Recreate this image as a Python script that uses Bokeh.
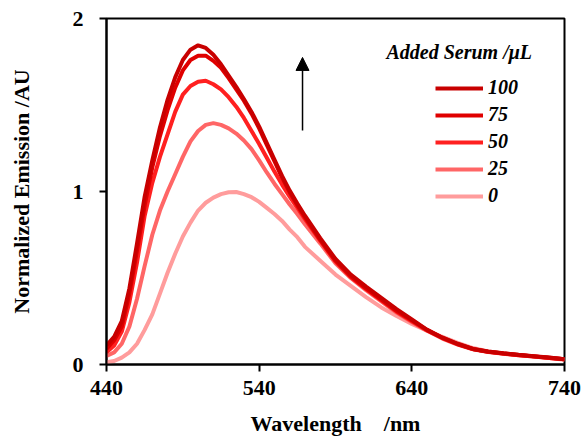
from bokeh.plotting import figure
from bokeh.models import Range1d, Legend, LegendItem, Label, Arrow, NormalHead, FixedTicker
from bokeh.embed import file_html
from bokeh.resources import INLINE

wavelength = [440, 445, 450, 455, 460, 465, 470, 475, 480, 485, 490, 495, 500, 505, 510,
              515, 520, 525, 530, 535, 540, 545, 550, 555, 560, 565, 570, 580, 590, 600,
              610, 620, 630, 640, 650, 660, 670, 680, 690, 700, 710, 720, 730, 740]

serum_100 = [0.11, 0.16, 0.25, 0.44, 0.70, 0.97, 1.18, 1.37, 1.53, 1.66, 1.76, 1.82, 1.845, 1.83, 1.79,
             1.735, 1.67, 1.605, 1.535, 1.46, 1.375, 1.28, 1.185, 1.09, 1.005, 0.93, 0.86, 0.73, 0.61, 0.52,
             0.45, 0.385, 0.32, 0.26, 0.20, 0.155, 0.12, 0.09, 0.075, 0.065, 0.056, 0.048, 0.04, 0.03]
serum_75 = [0.09, 0.14, 0.22, 0.41, 0.66, 0.92, 1.14, 1.32, 1.47, 1.60, 1.70, 1.76, 1.785, 1.785, 1.755,
            1.715, 1.655, 1.59, 1.525, 1.45, 1.365, 1.27, 1.175, 1.08, 0.995, 0.92, 0.85, 0.72, 0.60, 0.51,
            0.44, 0.375, 0.31, 0.255, 0.20, 0.155, 0.118, 0.09, 0.074, 0.064, 0.055, 0.047, 0.039, 0.03]
serum_50 = [0.07, 0.11, 0.19, 0.36, 0.59, 0.86, 1.05, 1.20, 1.33, 1.46, 1.56, 1.61, 1.635, 1.64, 1.62,
            1.59, 1.545, 1.49, 1.425, 1.35, 1.275, 1.195, 1.115, 1.04, 0.97, 0.905, 0.84, 0.715, 0.595, 0.505,
            0.435, 0.37, 0.305, 0.25, 0.197, 0.153, 0.117, 0.089, 0.073, 0.063, 0.054, 0.046, 0.038, 0.03]
serum_25 = [0.05, 0.07, 0.12, 0.22, 0.38, 0.57, 0.75, 0.89, 1.0, 1.1, 1.2, 1.29, 1.35, 1.385, 1.395,
            1.385, 1.365, 1.335, 1.295, 1.245, 1.18, 1.11, 1.045, 0.985, 0.925, 0.87, 0.81, 0.7, 0.585, 0.5,
            0.43, 0.365, 0.3, 0.245, 0.195, 0.15, 0.115, 0.088, 0.072, 0.062, 0.054, 0.046, 0.038, 0.03]
serum_0 = [0.013, 0.02, 0.04, 0.07, 0.12, 0.2, 0.29, 0.41, 0.53, 0.64, 0.74, 0.82, 0.89, 0.935, 0.965,
           0.985, 0.996, 0.997, 0.985, 0.967, 0.94, 0.905, 0.87, 0.83, 0.78, 0.736, 0.68, 0.6, 0.52, 0.455,
           0.39, 0.33, 0.28, 0.235, 0.195, 0.16, 0.125, 0.095, 0.075, 0.063, 0.055, 0.047, 0.038, 0.028]

series_labels = ["100", "75", "50", "25", "0"]
series_values = [serum_100, serum_75, serum_50, serum_25, serum_0]
series_colors = ["#C80000", "#E00000", "#FF2020", "#FF6666", "#FF9C9C"]

x_ticks = [440, 540, 640, 740]
y_ticks = [0, 1, 2]

FONT = "Liberation Serif"

p = figure(width=584, height=439, output_backend="svg", toolbar_location=None,
           x_range=Range1d(440, 740), y_range=Range1d(0, 2),
           min_border_left=106, min_border_right=20, min_border_top=18, min_border_bottom=75)
p.grid.visible = False
p.outline_line_color = "black"
p.outline_line_width = 2
p.background_fill_color = "white"
p.border_fill_color = "white"

for ax in (p.xaxis[0], p.yaxis[0]):
    ax.axis_line_width = 2
    ax.major_tick_line_width = 2
    ax.major_tick_out = 7
    ax.major_tick_in = 0
    ax.minor_tick_line_color = None
    ax.major_label_text_font = FONT
    ax.major_label_text_font_style = "bold"
    ax.major_label_text_font_size = "22px"
    ax.major_label_text_color = "black"
    ax.axis_label_text_font = FONT
    ax.axis_label_text_font_style = "bold"
    ax.axis_label_text_font_size = "22px"
    ax.axis_label_text_color = "black"

p.xaxis.ticker = FixedTicker(ticks=x_ticks)
p.yaxis.ticker = FixedTicker(ticks=y_ticks)
p.xaxis.axis_label = "Wavelength\u00a0\u00a0\u00a0\u00a0/nm"
p.yaxis.axis_label = "Normalized Emission /AU"
p.xaxis.major_label_standoff = 9
p.xaxis.axis_label_standoff = 13
p.yaxis.major_label_standoff = 16
p.yaxis.axis_label_standoff = 36

renderers = {}
for lab, vals, col in reversed(list(zip(series_labels, series_values, series_colors))):
    renderers[lab] = p.line(wavelength, vals, line_color=col, line_width=4)

items = [LegendItem(label=lab, renderers=[renderers[lab]]) for lab in series_labels]
legend = Legend(items=items, location=(329, 157), orientation="vertical",
                padding=0, margin=0, spacing=4, glyph_width=48, glyph_height=20,
                label_height=20, label_standoff=5,
                label_text_font=FONT, label_text_font_style="bold italic",
                label_text_font_size="20px", label_text_color="black",
                border_line_color=None, background_fill_alpha=0)
p.add_layout(legend, "center")

title = Label(x=623.4, y=1.805, text="Added Serum /\u03bcL", text_font=FONT,
              text_font_style="bold italic", text_font_size="20px",
              text_baseline="middle", text_align="left", text_color="black")
p.add_layout(title)

arrow = Arrow(end=NormalHead(size=13, fill_color="black", line_color="black"),
              x_start=568.4, y_start=1.353, x_end=568.4, y_end=1.775,
              line_color="black", line_width=1.5)
p.add_layout(arrow)

open("out.html", "w").write(file_html(p, INLINE))
